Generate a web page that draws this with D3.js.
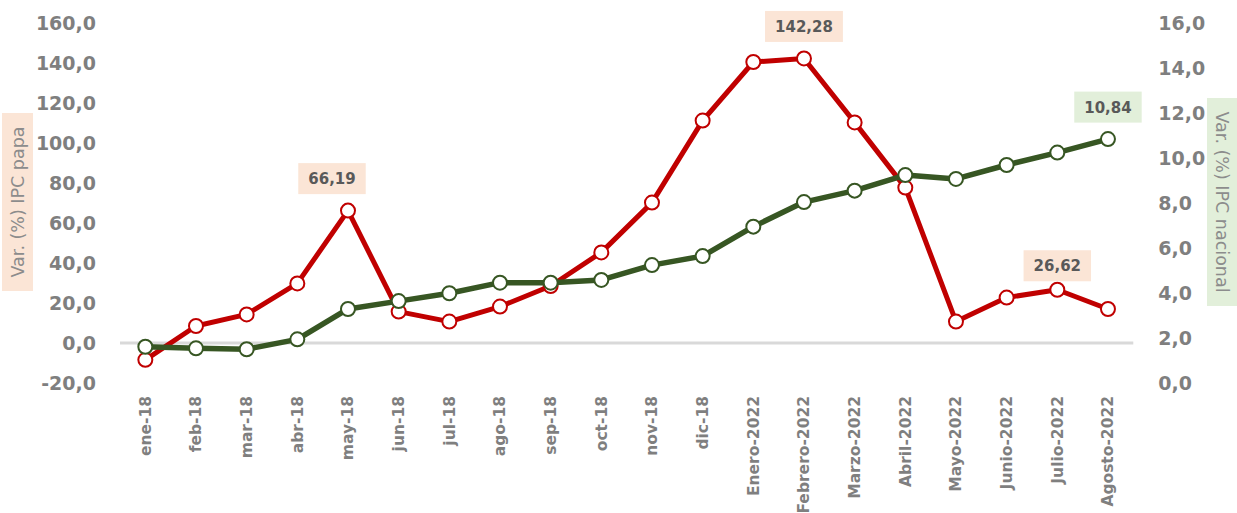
<!DOCTYPE html>
<html>
<head>
<meta charset="utf-8">
<script src="https://cdn.jsdelivr.net/npm/d3@7"></script>
<style>
  html, body { margin: 0; padding: 0; background: #fff; }
  svg { display: block; font-family: "DejaVu Sans", sans-serif; }
</style>
</head>
<body>
<svg id="chart" width="1237" height="513"></svg>
<script>
const categories = ["ene-18","feb-18","mar-18","abr-18","may-18","jun-18","jul-18","ago-18","sep-18","oct-18","nov-18","dic-18",
  "Enero-2022","Febrero-2022","Marzo-2022","Abril-2022","Mayo-2022","Junio-2022","Julio-2022","Agosto-2022"];
const ipcPapa = [-8.4, 8.5, 14.3, 29.8, 66.19, 15.7, 10.7, 18.2, 28.5, 45.3, 70.2, 111.2, 140.5, 142.28, 110.3, 77.7, 10.7, 22.7, 26.62, 17.0];
const ipcNacional = [1.61, 1.54, 1.50, 1.94, 3.29, 3.64, 3.99, 4.46, 4.46, 4.58, 5.24, 5.64, 6.95, 8.04, 8.55, 9.24, 9.07, 9.69, 10.24, 10.84];
const leftTicks = [-20, 0, 20, 40, 60, 80, 100, 120, 140, 160];
const rightTicks = [0, 2, 4, 6, 8, 10, 12, 14, 16];
const leftTitle = "Var. (%) IPC papa";
const rightTitle = "Var. (%) IPC nacional";
// labelled points: series, index, offset
const papaLabels = [{i: 4, dx: -16, dy: -32}, {i: 13, dx: 0, dy: -32}, {i: 18, dx: 0, dy: -24}];
const nacLabels = [{i: 19, dx: 0, dy: -32}];

const fmt1 = v => d3.format(".1f")(v).replace(".", ",").replace("−", "-");
const fmt2 = v => d3.format(".2f")(v).replace(".", ",");

const svg = d3.select("#chart");
const plotL = 120, plotR = 1133.3, plotT = 23, plotB = 383;

const x = d3.scaleBand().domain(categories).range([plotL, plotR]);
const yL = d3.scaleLinear().domain([-20, 160]).range([plotB, plotT]);
const yR = d3.scaleLinear().domain([0, 16]).range([plotB, plotT]);
const cx = c => x(c) + x.bandwidth() / 2;

// zero gridline
svg.append("line")
  .attr("x1", plotL).attr("x2", plotR)
  .attr("y1", yL(0)).attr("y2", yL(0))
  .attr("stroke", "#d9d9d9").attr("stroke-width", 3);

// left axis
const axL = svg.append("g").attr("transform", `translate(${plotL},0)`)
  .call(d3.axisLeft(yL).tickValues(leftTicks).tickFormat(fmt1).tickSize(0).tickPadding(24));
axL.select(".domain").remove();
axL.selectAll("text").attr("fill", "#7f7f7f").attr("font-size", 19).attr("font-weight", "bold")
  .attr("font-family", "DejaVu Sans");

// right axis
const axR = svg.append("g").attr("transform", `translate(${plotR},0)`)
  .call(d3.axisRight(yR).tickValues(rightTicks).tickFormat(fmt1).tickSize(0).tickPadding(25));
axR.select(".domain").remove();
axR.selectAll("text").attr("fill", "#7f7f7f").attr("font-size", 19).attr("font-weight", "bold")
  .attr("font-family", "DejaVu Sans");

// x axis labels
const axX = svg.append("g").attr("transform", `translate(0,${plotB})`)
  .call(d3.axisBottom(x).tickSize(0).tickPadding(0));
axX.select(".domain").remove();
axX.selectAll("text")
  .attr("fill", "#7f7f7f").attr("font-size", 15.5).attr("font-weight", "bold")
  .attr("font-family", "DejaVu Sans")
  .attr("text-anchor", "end")
  .attr("dy", "0.35em")
  .attr("transform", "translate(0,13) rotate(-90)")
  .attr("x", 0).attr("y", 0);

// axis titles
function axisTitle(text, cxp, cyp, w, h, bg, rot) {
  const g = svg.append("g");
  g.append("rect").attr("x", cxp - w / 2).attr("y", cyp - h / 2).attr("width", w).attr("height", h).attr("fill", bg);
  g.append("text").attr("transform", `translate(${cxp},${cyp}) rotate(${rot})`)
    .attr("text-anchor", "middle").attr("dy", "0.35em")
    .attr("font-size", 17.5).attr("fill", "#8c8c8c").text(text);
}
axisTitle(leftTitle, 17.5, 202, 31, 178, "#fbe5d6", -90);
axisTitle(rightTitle, 1222.5, 202, 31, 208, "#e2efda", 90);

// lines
const linePapa = d3.line().x((d, i) => cx(categories[i])).y(d => yL(d));
const lineNac = d3.line().x((d, i) => cx(categories[i])).y(d => yR(d));

function drawSeries(data, line, yScale, color, width) {
  svg.append("path").datum(data).attr("d", line)
    .attr("fill", "none").attr("stroke", color).attr("stroke-width", width)
    .attr("stroke-linejoin", "round");
  svg.append("g").selectAll("circle").data(data).join("circle")
    .attr("cx", (d, i) => cx(categories[i])).attr("cy", d => yScale(d))
    .attr("r", 7).attr("fill", "#fff").attr("stroke", color).attr("stroke-width", 2);
}
drawSeries(ipcPapa, linePapa, yL, "#c00000", 5);
drawSeries(ipcNacional, lineNac, yR, "#375623", 5.5);

// data labels
function dataLabel(v, px, py, bg) {
  const g = svg.append("g");
  const t = g.append("text").attr("x", px).attr("y", py).attr("text-anchor", "middle").attr("dy", "0.36em")
    .attr("font-size", 15).attr("font-weight", "bold").attr("fill", "#595959").text(fmt2(v));
  const w = t.node().getComputedTextLength() + 20;
  g.insert("rect", "text").attr("x", px - w / 2).attr("y", py - 15.5).attr("width", w).attr("height", 31).attr("fill", bg);
}
papaLabels.forEach(l => dataLabel(ipcPapa[l.i], cx(categories[l.i]) + l.dx, yL(ipcPapa[l.i]) + l.dy, "#fbe5d6"));
nacLabels.forEach(l => dataLabel(ipcNacional[l.i], cx(categories[l.i]) + l.dx, yR(ipcNacional[l.i]) + l.dy, "#e2efda"));
</script>
</body>
</html>
